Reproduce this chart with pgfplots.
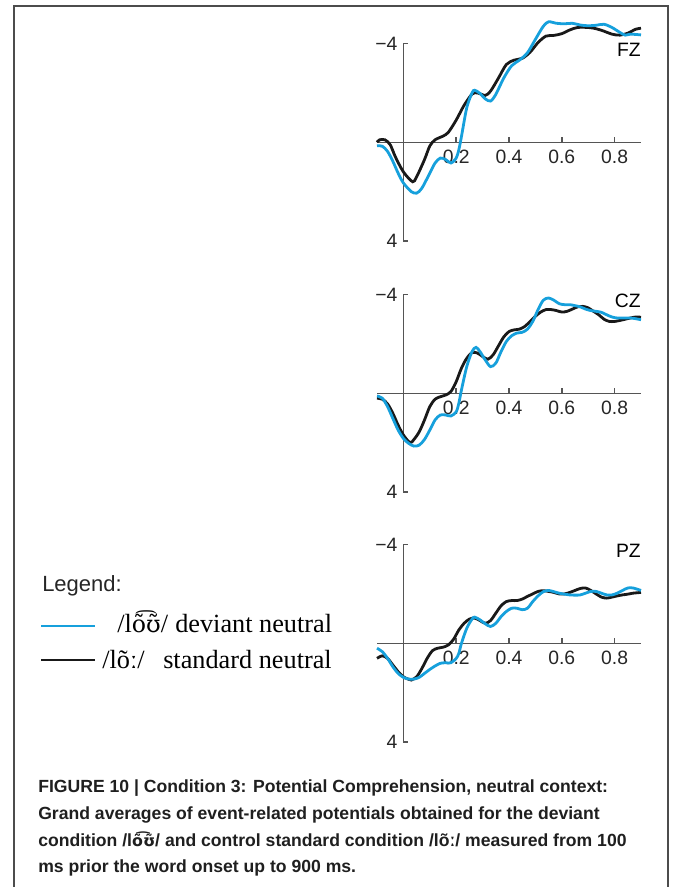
\documentclass[border=0pt]{standalone}
\usepackage{pgfplots}
\pgfplotsset{compat=1.18}
\usepackage{fontspec}
\setmainfont{Liberation Sans}
\newfontfamily\serif{Liberation Serif}
\newfontfamily\ipaserif{DejaVu Serif}[Scale=0.9]
\newfontfamily\ipasans{DejaVu Sans}[Scale=0.9]
\definecolor{erpblue}{RGB}{22,160,220}
\definecolor{erpblack}{RGB}{25,25,25}
\definecolor{axgray}{RGB}{85,85,85}
\pgfplotsset{erp/.style={
  scale only axis, width=198pt, height=148.1pt,
  xmin=-0.1, xmax=0.9, ymin=-4, ymax=4, y dir=reverse,
  axis lines=middle, clip=false,
  axis line style={-, line width=1.1pt, draw=axgray},
  every tick/.style={line width=1.1pt, draw=axgray},
  major tick length=3.75pt,
  xtick align=outside, ytick align=inside,
  xtick={0.2,0.4,0.6,0.8}, xticklabels={0.2,0.4,0.6,0.8},
  ytick={-4,4}, yticklabels={−4,4},
  tick label style={font=\fontsize{14.5}{14.5}\selectfont, text=black!85},
  xticklabel style={yshift=1.2pt},
  yticklabel style={xshift=-1pt},
  anchor=south west,
  every axis plot/.append style={line width=2.1pt, smooth, tension=0.5},
}}
\begin{document}
\begin{tikzpicture}
\useasboundingbox (0,0) rectangle (504pt,-665.25pt);
\draw[line width=1.2pt, draw=black!70] (10.5pt,-668pt) -- (10.5pt,-4.5pt) -- (501pt,-4.5pt) -- (501pt,-668pt);

% FZ
\begin{axis}[erp, at={(282.75pt,-180.75pt)}]
\addplot[erpblack] coordinates {
(-0.1,0) (-0.09,-0.1) (-0.07,-0.1) (-0.05,0.1) (-0.03,0.6) (0,1.2) (0.035,1.6) (0.05,1.4) (0.08,0.7) (0.1,0.15) (0.12,-0.1) (0.15,-0.25) (0.17,-0.4) (0.2,-0.9) (0.23,-1.5) (0.26,-1.95) (0.28,-2.0) (0.31,-1.9) (0.33,-2.07) (0.36,-2.6) (0.39,-3.15) (0.42,-3.33) (0.45,-3.4) (0.48,-3.65) (0.51,-4.04) (0.54,-4.3) (0.57,-4.33) (0.6,-4.4) (0.63,-4.55) (0.66,-4.65) (0.7,-4.65) (0.73,-4.6) (0.76,-4.5) (0.79,-4.38) (0.82,-4.34) (0.85,-4.42) (0.88,-4.58) (0.9,-4.62)};
\addplot[erpblue] coordinates {
(-0.1,0.14) (-0.08,0.16) (-0.06,0.37) (-0.04,0.77) (-0.02,1.25) (0,1.65) (0.03,2.0) (0.05,2.06) (0.07,1.86) (0.1,1.25) (0.12,0.84) (0.14,0.64) (0.16,0.7) (0.18,0.84) (0.2,0.64) (0.21,0.3) (0.22,-0.24) (0.24,-1.4) (0.26,-2.0) (0.27,-2.11) (0.29,-1.98) (0.31,-1.76) (0.33,-1.67) (0.35,-1.94) (0.38,-2.6) (0.41,-3.1) (0.44,-3.33) (0.47,-3.63) (0.5,-4.17) (0.53,-4.7) (0.55,-4.88) (0.58,-4.82) (0.61,-4.8) (0.64,-4.82) (0.67,-4.75) (0.7,-4.72) (0.73,-4.74) (0.76,-4.78) (0.79,-4.65) (0.82,-4.45) (0.84,-4.34) (0.86,-4.38) (0.9,-4.35)};
\node[anchor=base east, inner sep=0pt, font=\fontsize{14.5}{14.5}\selectfont] at (axis cs:0.9,-3.48) {FZ};
\end{axis}

% CZ
\begin{axis}[erp, at={(282.75pt,-369pt)}]
\addplot[erpblack] coordinates {
(-0.1,0.2) (-0.08,0.24) (-0.06,0.43) (-0.04,0.81) (-0.02,1.29) (0,1.69) (0.025,2.0) (0.04,1.87) (0.06,1.56) (0.08,1.08) (0.1,0.54) (0.12,0.24) (0.14,0.14) (0.16,0.07) (0.18,-0.07) (0.2,-0.47) (0.22,-1.02) (0.24,-1.42) (0.26,-1.65) (0.28,-1.63) (0.3,-1.49) (0.32,-1.38) (0.34,-1.56) (0.36,-1.92) (0.38,-2.28) (0.4,-2.5) (0.42,-2.57) (0.44,-2.6) (0.46,-2.71) (0.48,-2.91) (0.5,-3.12) (0.52,-3.29) (0.54,-3.39) (0.56,-3.39) (0.58,-3.35) (0.6,-3.29) (0.62,-3.32) (0.64,-3.41) (0.66,-3.5) (0.68,-3.52) (0.7,-3.46) (0.72,-3.32) (0.74,-3.18) (0.76,-3.0) (0.78,-2.91) (0.8,-2.91) (0.82,-2.95) (0.84,-3.0) (0.86,-3.05) (0.88,-3.09) (0.9,-3.08)};
\addplot[erpblue] coordinates {
(-0.1,0.11) (-0.08,0.2) (-0.06,0.54) (-0.04,1.02) (-0.02,1.49) (0,1.83) (0.02,2.03) (0.04,2.14) (0.06,2.1) (0.08,1.87) (0.1,1.49) (0.12,1.08) (0.14,0.88) (0.16,0.88) (0.18,0.92) (0.2,0.75) (0.21,0.4) (0.22,-0.14) (0.24,-1.08) (0.26,-1.69) (0.275,-1.86) (0.29,-1.69) (0.31,-1.35) (0.33,-1.08) (0.35,-1.22) (0.37,-1.69) (0.39,-2.1) (0.41,-2.33) (0.43,-2.44) (0.45,-2.47) (0.47,-2.6) (0.49,-2.91) (0.51,-3.39) (0.53,-3.77) (0.55,-3.86) (0.57,-3.77) (0.59,-3.63) (0.61,-3.59) (0.63,-3.59) (0.65,-3.55) (0.67,-3.5) (0.69,-3.41) (0.71,-3.35) (0.73,-3.32) (0.75,-3.28) (0.77,-3.18) (0.79,-3.09) (0.81,-3.05) (0.83,-3.05) (0.86,-3.05) (0.88,-3.02) (0.9,-2.98)};
\node[anchor=base east, inner sep=0pt, font=\fontsize{14.5}{14.5}\selectfont] at (axis cs:0.9,-3.48) {CZ};
\end{axis}

% PZ
\begin{axis}[erp, at={(282.75pt,-556.5pt)}]
\addplot[erpblack] coordinates {
(-0.1,0.61) (-0.08,0.51) (-0.06,0.61) (-0.04,0.88) (-0.02,1.15) (0,1.36) (0.02,1.46) (0.03,1.49) (0.05,1.36) (0.07,1.02) (0.09,0.61) (0.11,0.3) (0.13,0.2) (0.15,0.16) (0.17,0.07) (0.19,-0.16) (0.21,-0.54) (0.23,-0.81) (0.25,-0.98) (0.27,-1.02) (0.29,-0.92) (0.31,-0.81) (0.33,-0.92) (0.35,-1.22) (0.37,-1.52) (0.39,-1.69) (0.41,-1.73) (0.43,-1.73) (0.45,-1.79) (0.47,-1.9) (0.49,-2.0) (0.51,-2.1) (0.53,-2.13) (0.55,-2.1) (0.57,-2.06) (0.59,-2.0) (0.61,-2.0) (0.63,-2.06) (0.65,-2.14) (0.67,-2.22) (0.69,-2.24) (0.71,-2.14) (0.73,-2.0) (0.75,-1.87) (0.77,-1.83) (0.79,-1.87) (0.81,-1.92) (0.83,-1.96) (0.85,-1.99) (0.87,-2.03) (0.9,-2.06)};
\addplot[erpblue] coordinates {
(-0.1,0.2) (-0.08,0.34) (-0.06,0.61) (-0.04,0.95) (-0.02,1.22) (0,1.38) (0.02,1.45) (0.04,1.45) (0.06,1.38) (0.08,1.22) (0.1,1.06) (0.12,0.92) (0.14,0.81) (0.16,0.79) (0.18,0.79) (0.2,0.61) (0.21,0.41) (0.22,0) (0.24,-0.61) (0.26,-0.98) (0.27,-1.06) (0.29,-0.95) (0.31,-0.79) (0.33,-0.68) (0.35,-0.81) (0.37,-1.08) (0.39,-1.29) (0.41,-1.42) (0.43,-1.42) (0.45,-1.36) (0.47,-1.42) (0.49,-1.69) (0.51,-1.92) (0.53,-2.09) (0.55,-2.14) (0.57,-2.09) (0.59,-2.03) (0.61,-1.99) (0.63,-1.96) (0.65,-1.95) (0.67,-1.96) (0.69,-2.03) (0.71,-2.1) (0.73,-2.1) (0.75,-2.03) (0.77,-1.96) (0.79,-1.96) (0.81,-2.03) (0.83,-2.14) (0.85,-2.24) (0.87,-2.24) (0.9,-2.14)};
\node[anchor=base east, inner sep=0pt, font=\fontsize{14.5}{14.5}\selectfont] at (axis cs:0.9,-3.48) {PZ};
\end{axis}

% legend
\node[anchor=base west, inner sep=0pt, font=\fontsize{16.5}{16.5}\selectfont, text=black!85] at (31.5pt,-443.25pt) {Legend:};
\draw[erpblue, line width=1.3pt] (30.75pt,-469.5pt) -- (71.25pt,-469.5pt);
\draw[erpblack, line width=1.3pt] (30.75pt,-495pt) -- (71.25pt,-495pt);
\node[anchor=base west, inner sep=0pt, font=\serif\fontsize{19.7}{19.7}\selectfont] at (87.75pt,-474pt) {/l{\ipaserif õ͡ʊ̃}/};
\node[anchor=base west, inner sep=0pt, font=\serif\fontsize{19.7}{19.7}\selectfont] at (131.25pt,-474pt) {deviant neutral};
\node[anchor=base west, inner sep=0pt, font=\serif\fontsize{19.7}{19.7}\selectfont] at (76.5pt,-501pt) {/lõː/};
\node[anchor=base west, inner sep=0pt, font=\serif\fontsize{19.7}{19.7}\selectfont] at (122.25pt,-501pt) {standard neutral};

% caption
\node[anchor=base west, inner sep=0pt, align=left, font=\bfseries\fontsize{13.2}{19.9}\selectfont, text=black!88] at (28.5pt,-654.4pt) {FIGURE 10 | Condition 3: Potential Comprehension, neutral context:\\
Grand averages of event-related potentials obtained for the deviant\\
condition /l{\ipasans õ͡ʊ̃}/ and control standard condition /lõː/ measured from 100\\
ms prior the word onset up to 900 ms.};
\end{tikzpicture}
\end{document}
